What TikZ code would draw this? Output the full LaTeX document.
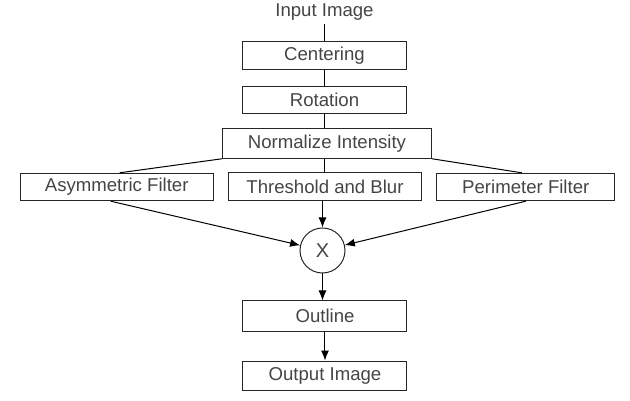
\documentclass[tikz,border=0pt]{standalone}
\usepackage{fontspec}
\setmainfont{Liberation Sans}
\usetikzlibrary{arrows.meta}
\definecolor{textgray}{HTML}{454545}
\begin{document}
\begin{tikzpicture}[main/.style={
	rectangle, minimum width=164pt, minimum height=28pt, inner sep=0pt,
	line width=1pt, draw=black!85,
	text=textgray, font=\fontsize{18.6}{22}\selectfont},
	mult/.style={circle, minimum size=45pt, inner sep=0pt,
	line width=1pt, draw=black!85,
	text=textgray, font=\fontsize{20}{22}\selectfont},
	>={Latex[length=10pt, width=8pt]}, line width=1pt]
	\useasboundingbox (-324.5pt,12.3pt) rectangle (305.5pt,-388.7pt);
	\node[text=textgray, font=\fontsize{18.6}{22}\selectfont] (input) {Input Image};
	\node[main, yshift=-43.6pt] (centering) {Centering};
	\node[main, yshift=-87.4pt, minimum height=27.3pt] (rotation) {Rotation};
	\node[main, xshift=2.5pt, yshift=-131pt, minimum width=209.4pt, minimum height=30pt] (normalize) {Normalize Intensity};
	\node[main, xshift=-207.8pt, yshift=-174.7pt, minimum width=193.3pt, minimum height=27.4pt] (asym) {Asymmetric Filter};
	\node[main, xshift=0.5pt, yshift=-174.4pt, minimum width=193.4pt] (thresh) {Threshold and Blur};
	\node[main, xshift=201.3pt, yshift=-174.7pt, minimum width=178.3pt, minimum height=27.4pt] (perim) {Perimeter Filter};
	\node[mult, xshift=-2pt, yshift=-238.2pt] (product) {X};
	\node[main, xshift=0.5pt, yshift=-303.7pt, minimum height=30pt] (outline) {Outline};
	\node[main, xshift=0.5pt, yshift=-363.2pt, minimum height=29pt] (output) {Output Image};
	\draw
				(input) edge (centering)
				(centering) edge (rotation)
				(rotation.south) edge (rotation.south |- normalize.north)
				(thresh.north |- normalize.south) edge (thresh)
				(normalize.south west) edge ([xshift=3pt]asym.north)
				(normalize.south east) edge ([xshift=-4pt]perim.north);
	\path
				([xshift=-6pt]asym.south) edge[->] (product)
				(thresh.south -| product) edge[->] (product)
				(perim.south) edge[->] (product)
				(product) edge[->] (product.south |- outline.north)
				(outline) edge[->] (output);
\end{tikzpicture}
\end{document}
